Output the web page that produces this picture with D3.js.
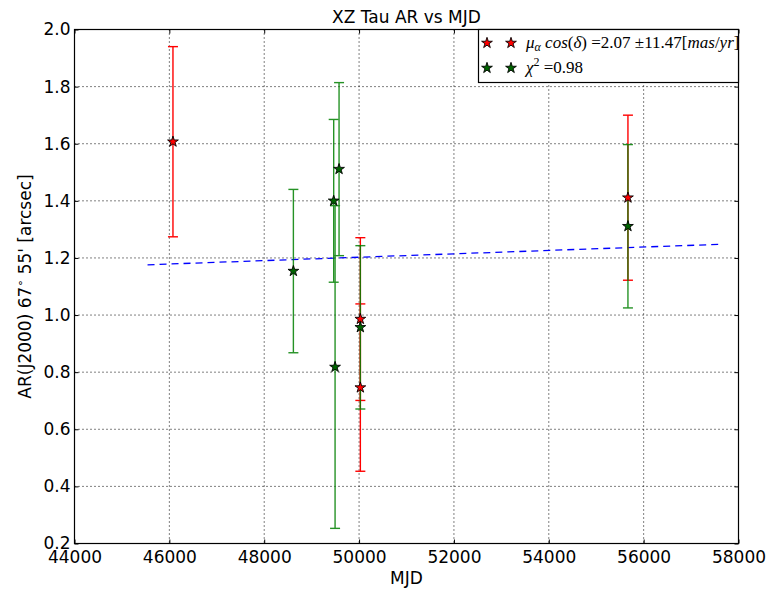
<!DOCTYPE html>
<html><head><meta charset="utf-8">
<script src="https://cdn.jsdelivr.net/npm/d3@7"></script>
<style>body{margin:0;background:#fff;} text{font-family:"DejaVu Sans",sans-serif;}</style>
</head><body>
<svg id="c" width="772" height="590"></svg>
<script>
// Data
const redMJD = [46076, 50027, 50027, 55669];
const redAR = [1.607, 0.986, 0.746, 1.411];
const redErr = [0.333, 0.285, 0.293, 0.289];
const greenMJD = [48615, 49465, 49494, 49578, 50027, 55669];
const greenAR = [1.154, 1.400, 0.818, 1.511, 0.957, 1.311];
const greenErr = [0.286, 0.285, 0.565, 0.303, 0.286, 0.286];
const fitMJD = [45540, 57650];
const fitAR = [1.176, 1.248];
const xTicks = [44000, 46000, 48000, 50000, 52000, 54000, 56000, 58000];
const yTicks = [0.2, 0.4, 0.6, 0.8, 1.0, 1.2, 1.4, 1.6, 1.8, 2.0];

const L = 74.5, R = 738.5, T = 29.5, B = 543.5;
const FS = 17;
const svg = d3.select("#c");
const x = d3.scaleLinear().domain([44000, 58000]).range([L, R]);
const y = d3.scaleLinear().domain([0.2, 2.0]).range([B, T]);

// grid
const g = svg.append("g");
g.selectAll(".gx").data(xTicks.slice(1, -1)).enter().append("line")
  .attr("x1", d => x(d)).attr("x2", d => x(d)).attr("y1", T).attr("y2", B)
  .attr("stroke", "#000").attr("stroke-width", 1).attr("stroke-dasharray", "1,3");
g.selectAll(".gy").data(yTicks.slice(1, -1)).enter().append("line")
  .attr("y1", d => y(d)).attr("y2", d => y(d)).attr("x1", L).attr("x2", R)
  .attr("stroke", "#000").attr("stroke-width", 1).attr("stroke-dasharray", "1,3");

// axes with inner ticks
const fmtX = d3.format("d"), fmtY = d3.format(".1f");
const ax = svg.append("g").attr("transform", `translate(0,${B})`)
  .call(d3.axisBottom(x).tickValues(xTicks).tickFormat(fmtX).tickSizeInner(-4).tickSizeOuter(0).tickPadding(7));
const axT = svg.append("g").attr("transform", `translate(0,${T})`)
  .call(d3.axisTop(x).tickValues(xTicks).tickFormat("").tickSizeInner(-4).tickSizeOuter(0));
const ay = svg.append("g").attr("transform", `translate(${L},0)`)
  .call(d3.axisLeft(y).tickValues(yTicks).tickFormat(fmtY).tickSizeInner(-4).tickSizeOuter(0).tickPadding(4));
const ayR = svg.append("g").attr("transform", `translate(${R},0)`)
  .call(d3.axisRight(y).tickValues(yTicks).tickFormat("").tickSizeInner(-4).tickSizeOuter(0));
[ax, axT, ay, ayR].forEach(a => {
  a.select(".domain").remove();
  a.selectAll("text").attr("font-size", FS).attr("fill", "#000").style("font-family", "DejaVu Sans");
  a.selectAll("line").attr("stroke", "#000");
});

// fit line
svg.append("path")
  .datum(fitMJD.map((m, i) => [m, fitAR[i]]))
  .attr("d", d3.line().x(d => x(d[0])).y(d => y(d[1])))
  .attr("stroke", "#0000ff").attr("stroke-width", 1.3).attr("fill", "none")
  .attr("stroke-dasharray", "7,5");

function errbars(mjd, ar, err, color, opacity) {
  const data = mjd.map((m, i) => ({m, v: ar[i], e: err[i]}));
  const gg = svg.append("g").attr("stroke", color).attr("stroke-width", 1.4).attr("opacity", opacity);
  gg.selectAll(".v").data(data).enter().append("line")
    .attr("x1", d => x(d.m)).attr("x2", d => x(d.m))
    .attr("y1", d => y(d.v + d.e)).attr("y2", d => y(d.v - d.e));
  ["top", "bot"].forEach(k => {
    gg.selectAll("." + k).data(data).enter().append("line")
      .attr("x1", d => x(d.m) - 5).attr("x2", d => x(d.m) + 5)
      .attr("y1", d => y(k === "top" ? d.v + d.e : d.v - d.e))
      .attr("y2", d => y(k === "top" ? d.v + d.e : d.v - d.e));
  });
  return data;
}
const star = d3.symbol().type(d3.symbolStar).size(36);
const rd = errbars(redMJD, redAR, redErr, "#ff0000", 1);
const gd = errbars(greenMJD, greenAR, greenErr, "#008000", 0.85);
function stars(data, fill) {
  svg.append("g").selectAll("path").data(data).enter().append("path")
    .attr("d", star).attr("transform", d => `translate(${x(d.m)},${y(d.v)})`)
    .attr("fill", fill).attr("stroke", "#000").attr("stroke-width", 0.9);
}
stars(rd, "#ff0000");
stars(gd, "#006400");

// frame
svg.append("rect").attr("x", L).attr("y", T).attr("width", R - L).attr("height", B - T)
  .attr("fill", "none").attr("stroke", "#000").attr("stroke-width", 1.2);

// title & labels
svg.append("text").attr("x", (L + R) / 2).attr("y", 22.5).attr("text-anchor", "middle")
  .attr("font-size", FS).text("XZ Tau AR vs MJD");
svg.append("text").attr("x", (L + R) / 2).attr("y", 584).attr("text-anchor", "middle")
  .attr("font-size", FS).text("MJD");
const yl = svg.append("text").attr("transform", `translate(31,${(T + B) / 2}) rotate(-90)`)
  .attr("text-anchor", "middle").attr("font-size", FS);
yl.append("tspan").text("AR(J2000) 67");
yl.append("tspan").attr("font-size", 11).attr("dy", -7).text("∘");
yl.append("tspan").attr("dy", 7).text(" 55' [arcsec]");

// legend
const lg = svg.append("g");
lg.append("rect").attr("x", 478.5).attr("y", 29.5).attr("width", 260).attr("height", 53)
  .attr("fill", "#fff").attr("stroke", "#000").attr("stroke-width", 1.2);
[[487, 43, "#ff0000"], [511, 43, "#ff0000"], [487, 68, "#006400"], [511, 68, "#006400"]].forEach(p => {
  lg.append("path").attr("d", star).attr("transform", `translate(${p[0]},${p[1]})`)
    .attr("fill", p[2]).attr("stroke", "#000").attr("stroke-width", 0.9);
});
const serif = "Liberation Serif";
const t1 = lg.append("text").attr("x", 526).attr("y", 48).attr("font-size", 17).style("font-family", serif);
t1.append("tspan").attr("font-style", "italic").text("μ");
t1.append("tspan").attr("font-style", "italic").attr("font-size", 12).attr("dy", 3).text("α");
t1.append("tspan").attr("dy", -3).attr("font-style", "italic").text(" cos");
t1.append("tspan").text("(");
t1.append("tspan").attr("font-style", "italic").text("δ");
t1.append("tspan").text(") =2.07 ±11.47[");
t1.append("tspan").attr("font-style", "italic").text("mas");
t1.append("tspan").text("/");
t1.append("tspan").attr("font-style", "italic").text("yr");
t1.append("tspan").text("]");
const t2 = lg.append("text").attr("x", 526).attr("y", 73).attr("font-size", 17).style("font-family", serif);
t2.append("tspan").attr("font-style", "italic").text("χ");
t2.append("tspan").attr("font-size", 12).attr("dy", -7).text("2");
t2.append("tspan").attr("dy", 7).text(" =0.98");
</script>
</body></html>
